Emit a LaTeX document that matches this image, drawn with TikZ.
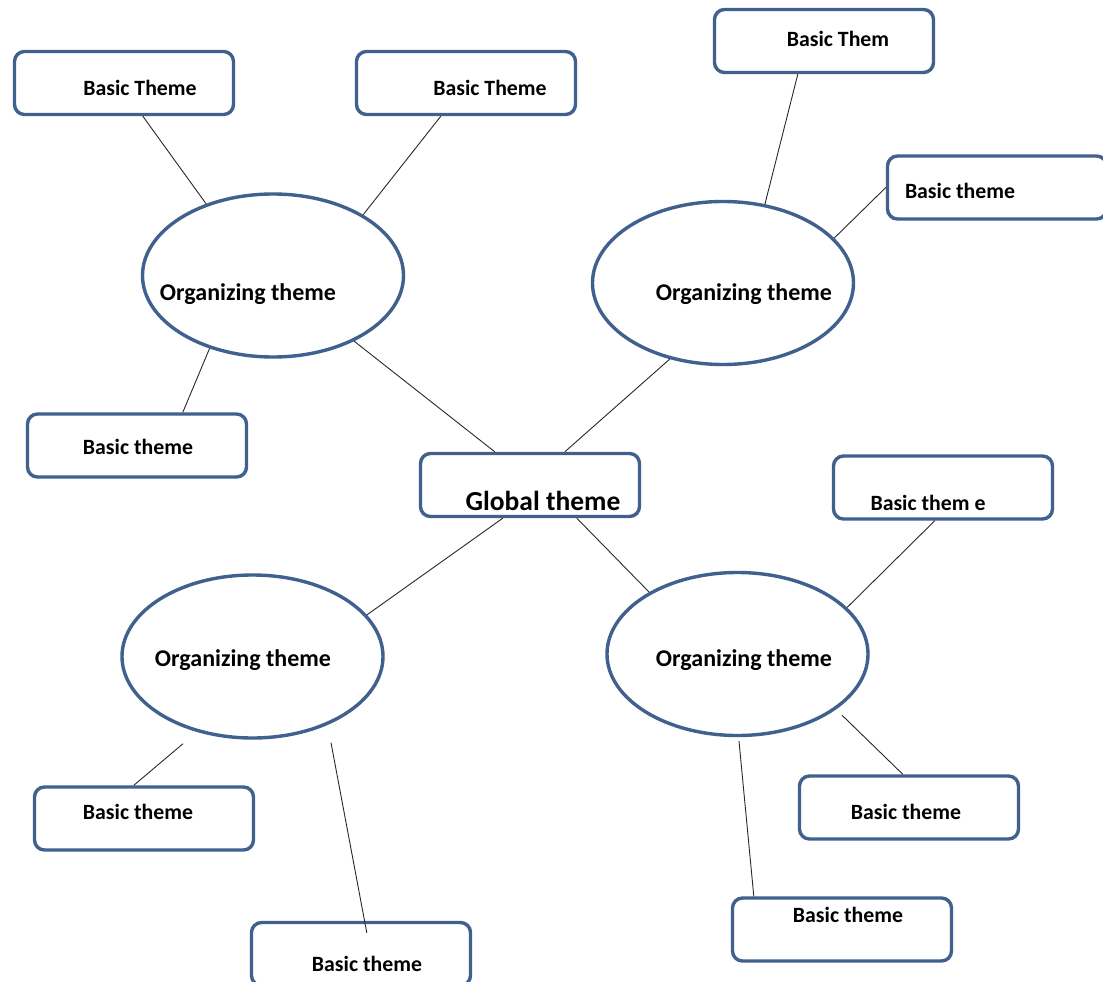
\documentclass[tikz,border=0pt]{standalone}
\usepackage{fontspec}
\setmainfont{Carlito}
\usetikzlibrary{shapes.geometric}
\definecolor{frame}{RGB}{64,96,142}
\definecolor{wire}{RGB}{40,40,40}
\tikzset{
  themebox/.style={draw=frame, line width=3.4pt, rounded corners=10pt, fill=white,
    minimum width=219pt, minimum height=63pt, inner sep=0pt},
  orgellipse/.style={ellipse, draw=frame, line width=3.4pt, fill=white,
    minimum width=261pt, minimum height=163pt, inner sep=0pt},
  basiclbl/.style={font=\fontsize{21.8}{25}\selectfont\bfseries, text=black, inner sep=0pt},
  orglbl/.style={font=\fontsize{24}{28}\selectfont\bfseries, text=black, inner sep=0pt},
  globallbl/.style={font=\fontsize{27.5}{31}\selectfont\bfseries, text=black, inner sep=0pt},
  link/.style={draw=wire, line width=0.9pt}
}
\begin{document}
\begin{tikzpicture}[x=1pt,y=-1pt]
\useasboundingbox (0,0) rectangle (1103,982);

% global theme
\node[themebox] (g) at (530,485) {};

% organizing themes
\node[orgellipse] (e1) at (273,275.5) {};
\node[orgellipse] (e2) at (723,283) {};
\node[orgellipse] (e3) at (252.5,656.5) {};
\node[orgellipse] (e4) at (737.5,654) {};

% basic themes
\node[themebox] (b1) at (124,83) {};
\node[themebox] (b2) at (466,83) {};
\node[themebox] (b3) at (824,41) {};
\node[themebox] (b4) at (997,187.5) {};
\node[themebox] (b5) at (137,445.5) {};
\node[themebox] (b6) at (943,487.5) {};
\node[themebox] (b7) at (144,818.5) {};
\node[themebox] (b8) at (909,807.5) {};
\node[themebox] (b9) at (842,929.5) {};
\node[themebox] (b10) at (361,954) {};

% connectors
\draw[link] ([xshift=130pt]b1.south west) -- (e1.133.8);
\draw[link] ([xshift=86pt]b2.south west) -- (e1.34.2);
\draw[link] ([xshift=157pt]b5.north west) -- (e1.229.7);
\draw[link] (e1.321.2) -- ([xshift=76pt]g.north west);
\draw[link] ([xshift=85pt]b3.south west) -- (e2.62.9);
\draw[link] (b4.west) -- (e2.22.5);
\draw[link] (e2.235.5) -- ([xshift=146pt]g.north west);
\draw[link] ([xshift=84pt]g.south west) -- (e3.20.1);
\draw[link] ([xshift=158pt]g.south west) -- (e4.145.6);
\draw[link] ([xshift=-69.5pt,yshift=-4pt]e3.south) -- ([xshift=101pt]b7.north west);
\draw[link] ([xshift=78.5pt,yshift=-3pt]e3.south) -- ([xshift=117pt,yshift=-12pt]b10.north west);
\draw[link] ([xshift=103pt]b6.south west) -- (e4.23);
\draw[link] ([xshift=104.5pt,yshift=22pt]e4.south) -- ([xshift=105pt]b8.north west);
\draw[link] ([xshift=1.5pt,yshift=-4pt]e4.south) -- ([xshift=23pt]b9.north west);

% labels
\node[globallbl] at ([xshift=13pt,yshift=-16pt]g.center) {Global theme};
\node[orglbl] at ([xshift=-25pt,yshift=-19pt]e1.center) {Organizing theme};
\node[orglbl] at ([xshift=21pt,yshift=-11pt]e2.center) {Organizing theme};
\node[orglbl] at ([xshift=-9.5pt,yshift=-4pt]e3.center) {Organizing theme};
\node[orglbl] at ([xshift=6.5pt,yshift=-6pt]e4.center) {Organizing theme};
\node[basiclbl] at ([xshift=16pt,yshift=-5pt]b1.center) {Basic Theme};
\node[basiclbl] at ([xshift=24pt,yshift=-5pt]b2.center) {Basic Theme};
\node[basiclbl] at ([xshift=14pt,yshift=2pt]b3.center) {Basic Them};
\node[basiclbl] at ([xshift=-37pt,yshift=-3.5pt]b4.center) {Basic theme};
\node[basiclbl] at ([xshift=1pt,yshift=-1.5pt]b5.center) {Basic theme};
\node[basiclbl] at ([xshift=-15pt,yshift=-15.5pt]b6.center) {Basic them e};
\node[basiclbl] at ([xshift=-6pt,yshift=6.5pt]b7.center) {Basic theme};
\node[basiclbl] at ([xshift=-3pt,yshift=-4.5pt]b8.center) {Basic theme};
\node[basiclbl] at ([xshift=6pt,yshift=14.5pt]b9.center) {Basic theme};
\node[basiclbl] at ([xshift=6pt,yshift=-10pt]b10.center) {Basic theme};
\end{tikzpicture}
\end{document}
